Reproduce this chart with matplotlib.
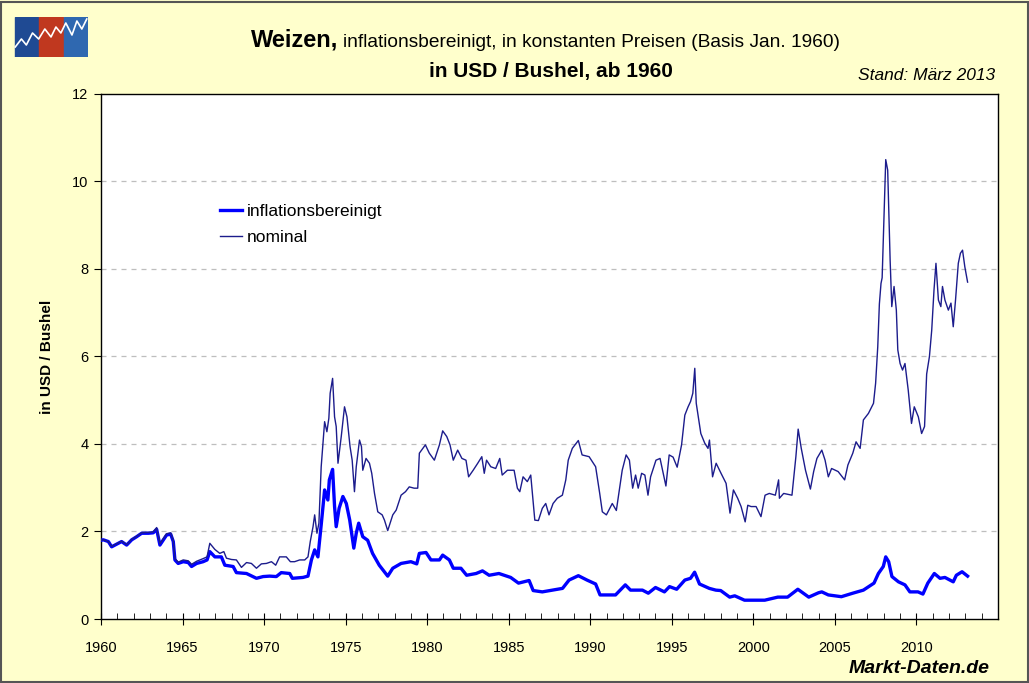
import matplotlib.pyplot as plt
from matplotlib.patches import Rectangle
from matplotlib.ticker import MultipleLocator

plt.rcParams['font.family'] = ['Liberation Sans', 'DejaVu Sans']

# nominal price, USD / bushel
nom_years = [1960.0, 1960.14, 1960.45, 1960.65, 1960.96, 1961.26, 1961.57, 1961.88, 1962.18, 1962.49,
             1962.9, 1963.2, 1963.41, 1963.61, 1963.82, 1964.02, 1964.27, 1964.43, 1964.53, 1964.73,
             1965.04, 1965.35, 1965.55, 1965.86, 1966.26, 1966.5, 1966.67, 1966.98, 1967.28, 1967.53,
             1967.69, 1968.0, 1968.3, 1968.61, 1968.92, 1969.22, 1969.53, 1969.83, 1970.14, 1970.45,
             1970.71, 1970.95, 1971.36, 1971.61, 1971.87, 1972.18, 1972.49, 1972.69, 1972.83, 1973.0,
             1973.1, 1973.24, 1973.36, 1973.5, 1973.71, 1973.85, 1973.97, 1974.05, 1974.2, 1974.32,
             1974.42, 1974.53, 1974.73, 1974.93, 1975.08, 1975.27, 1975.4, 1975.54, 1975.65, 1975.85,
             1975.97, 1976.05, 1976.25, 1976.46, 1976.6, 1976.77, 1976.97, 1977.24, 1977.38, 1977.58,
             1977.89, 1978.1, 1978.4, 1978.67, 1978.9, 1979.2, 1979.42, 1979.52, 1979.89, 1980.13,
             1980.44, 1980.75, 1980.95, 1981.2, 1981.4, 1981.6, 1981.87, 1982.13, 1982.38, 1982.54,
             1982.82, 1983.1, 1983.35, 1983.5, 1983.64, 1983.9, 1984.2, 1984.45, 1984.6, 1984.92,
             1985.33, 1985.53, 1985.68, 1985.88, 1986.14, 1986.35, 1986.5, 1986.6, 1986.82, 1987.06,
             1987.27, 1987.47, 1987.72, 1987.98, 1988.29, 1988.5, 1988.65, 1988.9, 1989.27, 1989.5,
             1989.93, 1990.33, 1990.58, 1990.74, 1990.99, 1991.35, 1991.6, 1991.96, 1992.2, 1992.4,
             1992.6, 1992.78, 1992.94, 1993.15, 1993.35, 1993.54, 1993.7, 1994.03, 1994.28, 1994.64,
             1994.84, 1995.08, 1995.33, 1995.6, 1995.8, 1996.0, 1996.15, 1996.29, 1996.41, 1996.5,
             1996.78, 1997.02, 1997.22, 1997.31, 1997.5, 1997.72, 1998.02, 1998.33, 1998.57, 1998.78,
             1999.04, 1999.25, 1999.5, 1999.66, 1999.86, 2000.17, 2000.47, 2000.72, 2000.98, 2001.35,
             2001.55, 2001.6, 2001.86, 2002.37, 2002.61, 2002.75, 2002.94, 2003.2, 2003.5, 2003.7,
             2003.9, 2004.2, 2004.4, 2004.6, 2004.8, 2005.2, 2005.6, 2005.8, 2006.1, 2006.3,
             2006.55, 2006.75, 2007.06, 2007.37, 2007.5, 2007.63, 2007.73, 2007.83, 2007.9, 2008.0,
             2008.12, 2008.24, 2008.39, 2008.49, 2008.63, 2008.77, 2008.86, 2009.0, 2009.15, 2009.3,
             2009.5, 2009.7, 2009.87, 2010.12, 2010.32, 2010.5, 2010.63, 2010.8, 2010.94, 2011.08,
             2011.2, 2011.35, 2011.5, 2011.6, 2011.75, 2011.96, 2012.12, 2012.26, 2012.4, 2012.57,
             2012.7, 2012.83, 2012.97, 2013.14]
nom_vals = [1.80, 1.81, 1.77, 1.66, 1.72, 1.78, 1.70, 1.82, 1.89, 1.97,
            1.98, 1.99, 2.09, 1.72, 1.84, 1.95, 1.97, 1.80, 1.38, 1.30,
            1.35, 1.33, 1.25, 1.32, 1.38, 1.42, 1.73, 1.59, 1.50, 1.54,
            1.39, 1.36, 1.35, 1.18, 1.29, 1.27, 1.16, 1.26, 1.27, 1.31,
            1.23, 1.42, 1.42, 1.31, 1.31, 1.35, 1.35, 1.42, 1.77, 2.11,
            2.38, 1.96, 2.19, 3.48, 4.51, 4.28, 4.59, 5.16, 5.50, 4.62,
            4.40, 3.56, 4.17, 4.85, 4.62, 3.94, 3.63, 2.91, 3.48, 4.09,
            3.94, 3.40, 3.67, 3.56, 3.33, 2.87, 2.45, 2.38, 2.26, 2.02,
            2.38, 2.49, 2.83, 2.91, 3.02, 2.99, 2.99, 3.79, 3.98, 3.79,
            3.63, 3.98, 4.30, 4.17, 3.98, 3.63, 3.86, 3.67, 3.63, 3.25,
            3.40, 3.56, 3.71, 3.33, 3.63, 3.48, 3.44, 3.67, 3.29, 3.40,
            3.40, 2.99, 2.91, 3.25, 3.14, 3.29, 2.68, 2.26, 2.25, 2.53,
            2.64, 2.38, 2.64, 2.76, 2.83, 3.18, 3.63, 3.90, 4.08, 3.75,
            3.71, 3.48, 2.87, 2.45, 2.38, 2.64, 2.48, 3.40, 3.75, 3.63,
            2.99, 3.29, 2.99, 3.33, 3.29, 2.83, 3.25, 3.63, 3.67, 3.04,
            3.75, 3.70, 3.47, 3.98, 4.66, 4.85, 4.97, 5.16, 5.73, 4.93,
            4.24, 4.02, 3.90, 4.09, 3.25, 3.56, 3.33, 3.10, 2.42, 2.95,
            2.76, 2.57, 2.22, 2.60, 2.57, 2.57, 2.34, 2.83, 2.87, 2.83,
            3.18, 2.76, 2.87, 2.83, 3.71, 4.34, 3.90, 3.40, 2.97, 3.37,
            3.67, 3.86, 3.63, 3.25, 3.44, 3.37, 3.18, 3.52, 3.79, 4.05,
            3.90, 4.55, 4.70, 4.93, 5.39, 6.22, 7.20, 7.67, 7.80, 9.00,
            10.50, 10.26, 8.20, 7.14, 7.60, 7.06, 6.15, 5.84, 5.69, 5.84,
            5.23, 4.47, 4.85, 4.62, 4.24, 4.40, 5.60, 6.00, 6.60, 7.52,
            8.13, 7.29, 7.14, 7.60, 7.29, 7.06, 7.22, 6.68, 7.29, 8.13,
            8.36, 8.43, 8.05, 7.70]

# inflation adjusted price (base Jan. 1960)
real_years = [1960.0, 1960.14, 1960.45, 1960.65, 1960.96, 1961.26, 1961.57, 1961.88, 1962.18, 1962.49,
              1962.9, 1963.2, 1963.41, 1963.61, 1963.82, 1964.02, 1964.27, 1964.43, 1964.53, 1964.73,
              1965.04, 1965.35, 1965.55, 1965.86, 1966.26, 1966.5, 1966.67, 1966.98, 1967.38, 1967.59,
              1968.1, 1968.3, 1968.92, 1969.53, 1969.94, 1970.34, 1970.75, 1971.05, 1971.57, 1971.73,
              1972.38, 1972.69, 1972.9, 1973.1, 1973.3, 1973.5, 1973.71, 1973.91, 1974.0, 1974.2,
              1974.32, 1974.42, 1974.6, 1974.83, 1975.04, 1975.25, 1975.5, 1975.65, 1975.8, 1976.05,
              1976.35, 1976.65, 1977.06, 1977.58, 1977.89, 1978.4, 1979.0, 1979.36, 1979.52, 1979.93,
              1980.23, 1980.75, 1980.95, 1981.36, 1981.6, 1982.07, 1982.42, 1983.0, 1983.39, 1983.8,
              1984.4, 1985.12, 1985.6, 1986.25, 1986.5, 1987.06, 1987.67, 1988.3, 1988.7, 1989.27,
              1989.8, 1990.33, 1990.6, 1991.55, 1992.15, 1992.47, 1993.2, 1993.56, 1994.0, 1994.55,
              1994.86, 1995.3, 1995.8, 1996.15, 1996.4, 1996.7, 1997.3, 1997.7, 1998.0, 1998.55,
              1998.86, 1999.46, 2000.06, 2000.7, 2001.5, 2002.1, 2002.73, 2003.4, 2004.0, 2004.2,
              2004.6, 2005.4, 2006.1, 2006.75, 2007.4, 2007.67, 2007.97, 2008.12, 2008.3, 2008.5,
              2008.9, 2009.3, 2009.6, 2010.1, 2010.4, 2010.7, 2011.1, 2011.45, 2011.75, 2012.26,
              2012.45, 2012.8, 2013.14]
real_vals = [1.80, 1.81, 1.77, 1.65, 1.71, 1.77, 1.69, 1.81, 1.88, 1.96,
             1.96, 1.97, 2.05, 1.69, 1.81, 1.92, 1.94, 1.77, 1.35, 1.27,
             1.31, 1.29, 1.20, 1.27, 1.31, 1.35, 1.54, 1.42, 1.42, 1.23,
             1.20, 1.06, 1.04, 0.93, 0.97, 0.98, 0.97, 1.06, 1.04, 0.93,
             0.95, 0.98, 1.35, 1.58, 1.42, 2.15, 2.95, 2.72, 3.18, 3.42,
             2.57, 2.11, 2.53, 2.80, 2.64, 2.26, 1.62, 1.96, 2.19, 1.88,
             1.80, 1.50, 1.23, 0.98, 1.16, 1.27, 1.31, 1.26, 1.50, 1.52,
             1.35, 1.35, 1.46, 1.35, 1.16, 1.16, 1.00, 1.04, 1.10, 1.00,
             1.04, 0.95, 0.82, 0.88, 0.65, 0.62, 0.66, 0.70, 0.89, 0.99,
             0.89, 0.80, 0.55, 0.55, 0.78, 0.66, 0.66, 0.59, 0.72, 0.62,
             0.74, 0.68, 0.89, 0.93, 1.07, 0.80, 0.70, 0.66, 0.65, 0.50,
             0.53, 0.43, 0.43, 0.43, 0.50, 0.50, 0.68, 0.50, 0.60, 0.62,
             0.55, 0.51, 0.59, 0.66, 0.82, 1.04, 1.20, 1.42, 1.31, 0.97,
             0.85, 0.78, 0.62, 0.62, 0.57, 0.82, 1.04, 0.93, 0.95, 0.85,
             1.00, 1.08, 0.98]

yticks = [0, 2, 4, 6, 8, 10, 12]
xticks = [1960, 1965, 1970, 1975, 1980, 1985, 1990, 1995, 2000, 2005, 2010]

bg = '#FFFFCC'
fig = plt.figure(figsize=(10.29, 6.83), dpi=100, facecolor=bg)
fig.patches.append(Rectangle((0.001, 0.001), 0.998, 0.996, transform=fig.transFigure,
                             fill=False, edgecolor='#555555', linewidth=1.5))

ax = fig.add_axes([0.0982, 0.0937, 0.8716, 0.7687])
ax.set_facecolor('white')

l1, = ax.plot(real_years, real_vals, color='#0000FF', linewidth=2.4, label='inflationsbereinigt', zorder=3)
l2, = ax.plot(nom_years, nom_vals, color='#1C1C8C', linewidth=1.0, label='nominal', zorder=4)

ax.set_xlim(1960, 2015)
ax.set_ylim(0, 12)
ax.set_yticks(yticks)
ax.set_xticks(xticks)
ax.xaxis.set_minor_locator(MultipleLocator(1))
for y in yticks[1:-1]:
    ax.axhline(y, color='#BEBEBE', linewidth=0.9, linestyle=(0, (4, 4)), zorder=1)

for s in ax.spines.values():
    s.set_color('black')
    s.set_linewidth(1.0)
ax.tick_params(axis='y', direction='out', length=5, labelsize=10.5, pad=4)
ax.tick_params(axis='x', which='major', direction='inout', length=8, labelsize=10.5, pad=12)
ax.tick_params(axis='x', which='minor', direction='in', length=4)

ax.set_ylabel('in USD / Bushel', fontsize=11, fontweight='bold')
ax.yaxis.set_label_coords(-0.052, 0.5)

ax.legend(handles=[l1, l2], loc='upper left', bbox_to_anchor=(0.115, 0.82), frameon=False,
          fontsize=12.5, handlelength=1.3, handletextpad=0.25, labelspacing=0.6)

# titles
fig.text(338 / 1029, 1 - 47 / 683, 'Weizen,', fontsize=17, fontweight='bold', ha='right', va='baseline')
fig.text(343 / 1029, 1 - 47 / 683, 'inflationsbereinigt, in konstanten Preisen (Basis Jan. 1960)',
         fontsize=13.8, ha='left', va='baseline')
fig.text(551 / 1029, 1 - 77 / 683, 'in USD / Bushel, ab 1960', fontsize=15, fontweight='bold',
         ha='center', va='baseline')
fig.text(995 / 1029, 1 - 80 / 683, 'Stand: März 2013', fontsize=12.5, style='italic',
         ha='right', va='baseline')
fig.text(990 / 1029, 1 - 673 / 683, 'Markt-Daten.de', fontsize=14, style='italic',
         fontweight='bold', ha='right', va='baseline')

# logo in the upper left corner
logo = fig.add_axes([14 / 1029, 1 - 57 / 683, 74 / 1029, 40 / 683])
logo.set_xlim(0, 3)
logo.set_ylim(0, 1)
logo.axis('off')
for i, c in enumerate(['#1F4A93', '#C0381F', '#2F68B0']):
    logo.add_patch(Rectangle((i + 0.03, 0), 0.94, 1, color=c))
zig_x = [0.05, 0.3, 0.5, 0.75, 1.0, 1.25, 1.5, 1.7, 1.9, 2.1, 2.35, 2.55, 2.75, 2.95]
zig_y = [0.25, 0.45, 0.3, 0.6, 0.45, 0.7, 0.5, 0.75, 0.6, 0.85, 0.55, 0.9, 0.7, 0.95]
logo.plot(zig_x, zig_y, color='white', linewidth=1.2)

fig.savefig('out.png', dpi=100, facecolor=bg)
